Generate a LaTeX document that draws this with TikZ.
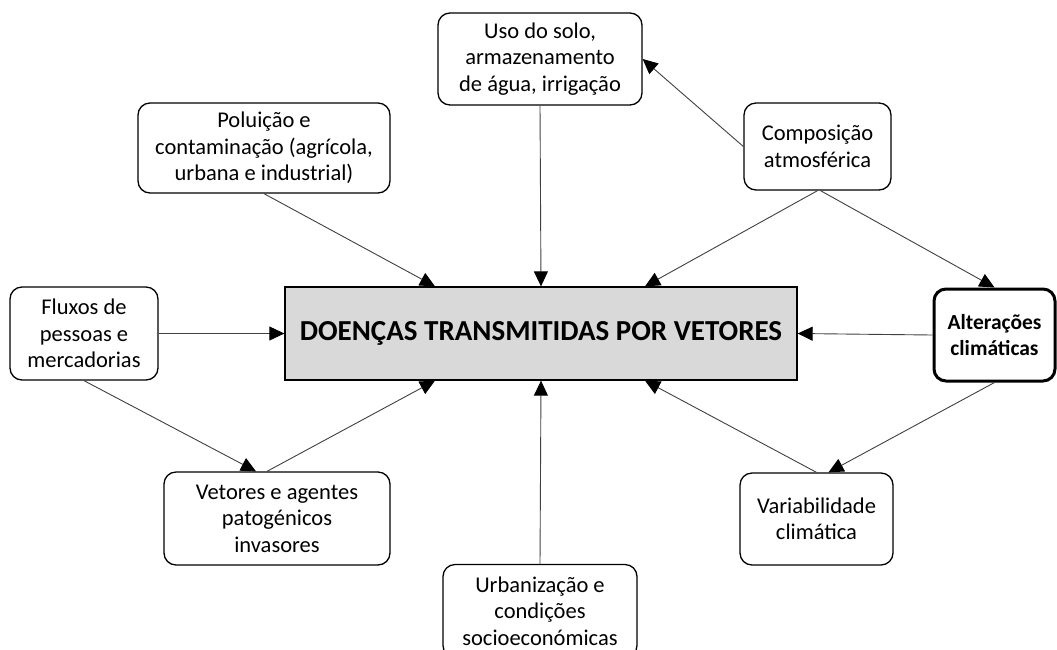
\documentclass[tikz,border=0pt]{standalone}
\usepackage{fontspec}
\setmainfont{Carlito}
\usetikzlibrary{arrows.meta, positioning, calc}
\definecolor{ink}{HTML}{000000}
\definecolor{wire}{HTML}{404040}
\definecolor{softgrey}{HTML}{D9D9D9}
\tikzset{
  factor/.style={draw=ink, line width=1.3pt, rounded corners=12pt, fill=white, align=center,
    inner sep=0pt, font=\fontsize{22.5}{26.5}\selectfont},
  mainbox/.style={draw=ink, line width=1.3pt, fill=softgrey, align=center, inner sep=0pt,
    font=\fontsize{29}{34}\selectfont\bfseries},
  link/.style={draw=wire, line width=0.9pt, -{Triangle[length=15pt,width=14pt,color=black]}}
}
\begin{document}
\begin{tikzpicture}[x=1pt,y=-1pt]
\path[use as bounding box, clip] (0,0) rectangle (1057,649);
\node[mainbox, minimum width=512pt, minimum height=93pt] (centro) at (541,333.5) {DOENÇAS TRANSMITIDAS POR VETORES};

\node[factor, minimum width=204pt, minimum height=92pt] (uso)   at (540,59)    {Uso do solo,\\armazenamento\\de água, irrigação};
\node[factor, minimum width=252pt, minimum height=90pt] (polu)  at (264,148)   {Poluição e\\contaminação (agrícola,\\urbana e industrial)};
\node[factor, minimum width=147pt, minimum height=87pt] (comp)  at (817.5,146.5) {Composição\\atmosférica};
\node[factor, minimum width=148pt, minimum height=93pt] (flux)  at (84,333.5)  {Fluxos de\\pessoas e\\mercadorias};
\node[factor, line width=3pt, font=\fontsize{21.5}{26.5}\selectfont\bfseries,
      minimum width=121pt, minimum height=92pt] (alter) at (994.5,335) {Alterações\\climáticas};
\node[factor, minimum width=226pt, minimum height=93pt] (veto)  at (277,518.5) {Vetores e agentes\\patogénicos\\invasores};
\node[factor, minimum width=194pt, minimum height=93pt] (urb)   at (540,611)   {Urbanização e\\condições\\socioeconómicas};
\node[factor, minimum width=153pt, minimum height=92pt] (vari)  at (816.5,519) {Variabilidade\\climática};

% setas para o centro
\draw[link] (polu.south) -- ([xshift=-106pt]centro.north);
\draw[link] (uso.south) -- (centro.north);
\draw[link] (comp.south) -- ([xshift=104pt]centro.north);
\draw[link] (flux.east) -- (centro.west);
\draw[link] (alter.west) -- (centro.east);
\draw[link] ([xshift=-10pt]veto.north) -- ([xshift=-106pt]centro.south);
\draw[link] (urb.north) -- (centro.south);
\draw[link] (vari.north) -- ([xshift=104pt]centro.south);

% ligações entre fatores
\draw[link] (comp.west) -- (uso.east);
\draw[link] ([xshift=3pt]comp.south) -- (alter.north);
\draw[link] (flux.south) -- ([xshift=-21pt]veto.north);
\draw[link] (alter.south) -- ([xshift=12pt]vari.north);
\end{tikzpicture}
\end{document}
